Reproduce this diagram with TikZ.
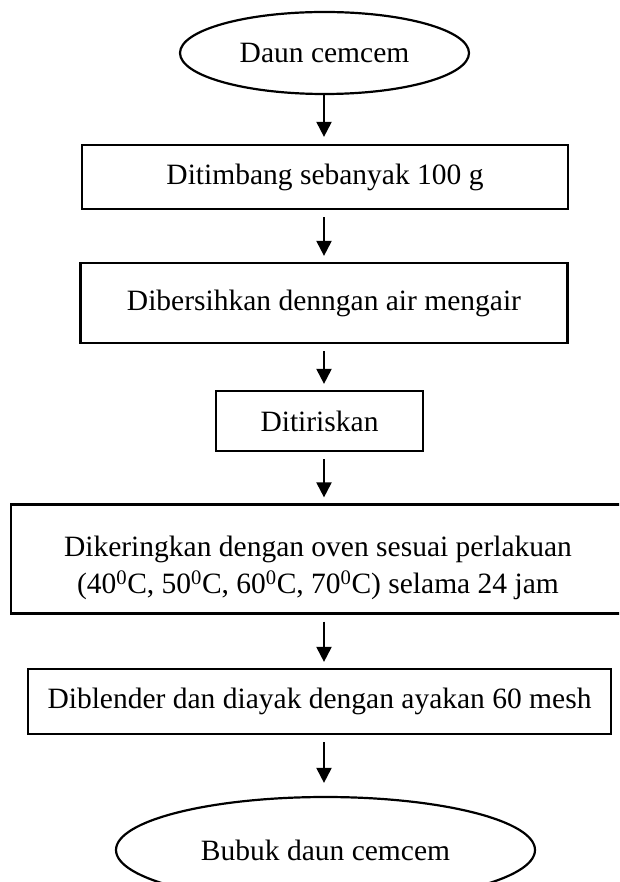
\documentclass[tikz,border=0pt]{standalone}
\usepackage{fontspec}
\setmainfont{Liberation Serif}
\usetikzlibrary{arrows.meta,shapes.geometric}
\begin{document}
\begin{tikzpicture}[x=1pt,y=-1pt,
  font=\fontsize{29.5}{37}\selectfont,
  box/.style={draw,line width=2.2pt,rectangle,inner sep=0pt,align=center},
  oval/.style={draw,line width=2.2pt,ellipse,inner sep=0pt},
  arr/.style={line width=2pt,-{Triangle[width=15pt,length=15pt]}}]
\useasboundingbox (0,0) rectangle (619,882);
\clip (0,0) rectangle (619,882);
\fill[white] (0,0) rectangle (619,882);
\coordinate (ax) at (324,0);
\node[oval,minimum width=289pt,minimum height=82pt] (e1) at (324.5,53) {Daun cemcem};
\node[box,minimum width=486pt,minimum height=64pt] (b1) at (325,177) {Ditimbang sebanyak 100 g};
\node[box,minimum width=487pt,minimum height=80pt] (b2) at (324,303) {Dibersihkan denngan air mengair};
\node[box,minimum width=207pt,minimum height=60pt] (b3) at (319.5,421) {Ditiriskan};
\node[box,minimum width=629pt,minimum height=109pt] (b4) at (325.5,559) {};
\node (t4) at (318,568) [align=center] {Dikeringkan dengan oven sesuai perlakuan\\(40\textsuperscript{0}C, 50\textsuperscript{0}C, 60\textsuperscript{0}C, 70\textsuperscript{0}C) selama 24 jam};
\node[box,minimum width=583pt,minimum height=65pt] (b5) at (319.5,701.5) {Diblender dan diayak dengan ayakan 60 mesh};
\node[oval,minimum width=419pt,minimum height=106pt] (e2) at (325.5,850) {Bubuk daun cemcem};
\draw[arr] (ax |- e1.south) -- ([yshift=7pt]ax |- b1.north);
\draw[arr] ([yshift=-7pt]ax |- b1.south) -- ([yshift=6pt]ax |- b2.north);
\draw[arr] ([yshift=-7pt]ax |- b2.south) -- ([yshift=6pt]ax |- b3.north);
\draw[arr] ([yshift=-7pt]ax |- b3.south) -- ([yshift=6pt]ax |- b4.north);
\draw[arr] ([yshift=-7pt]ax |- b4.south) -- ([yshift=6pt]ax |- b5.north);
\draw[arr] ([yshift=-7pt]ax |- b5.south) -- ([yshift=13pt]ax |- e2.north);
\end{tikzpicture}
\end{document}
